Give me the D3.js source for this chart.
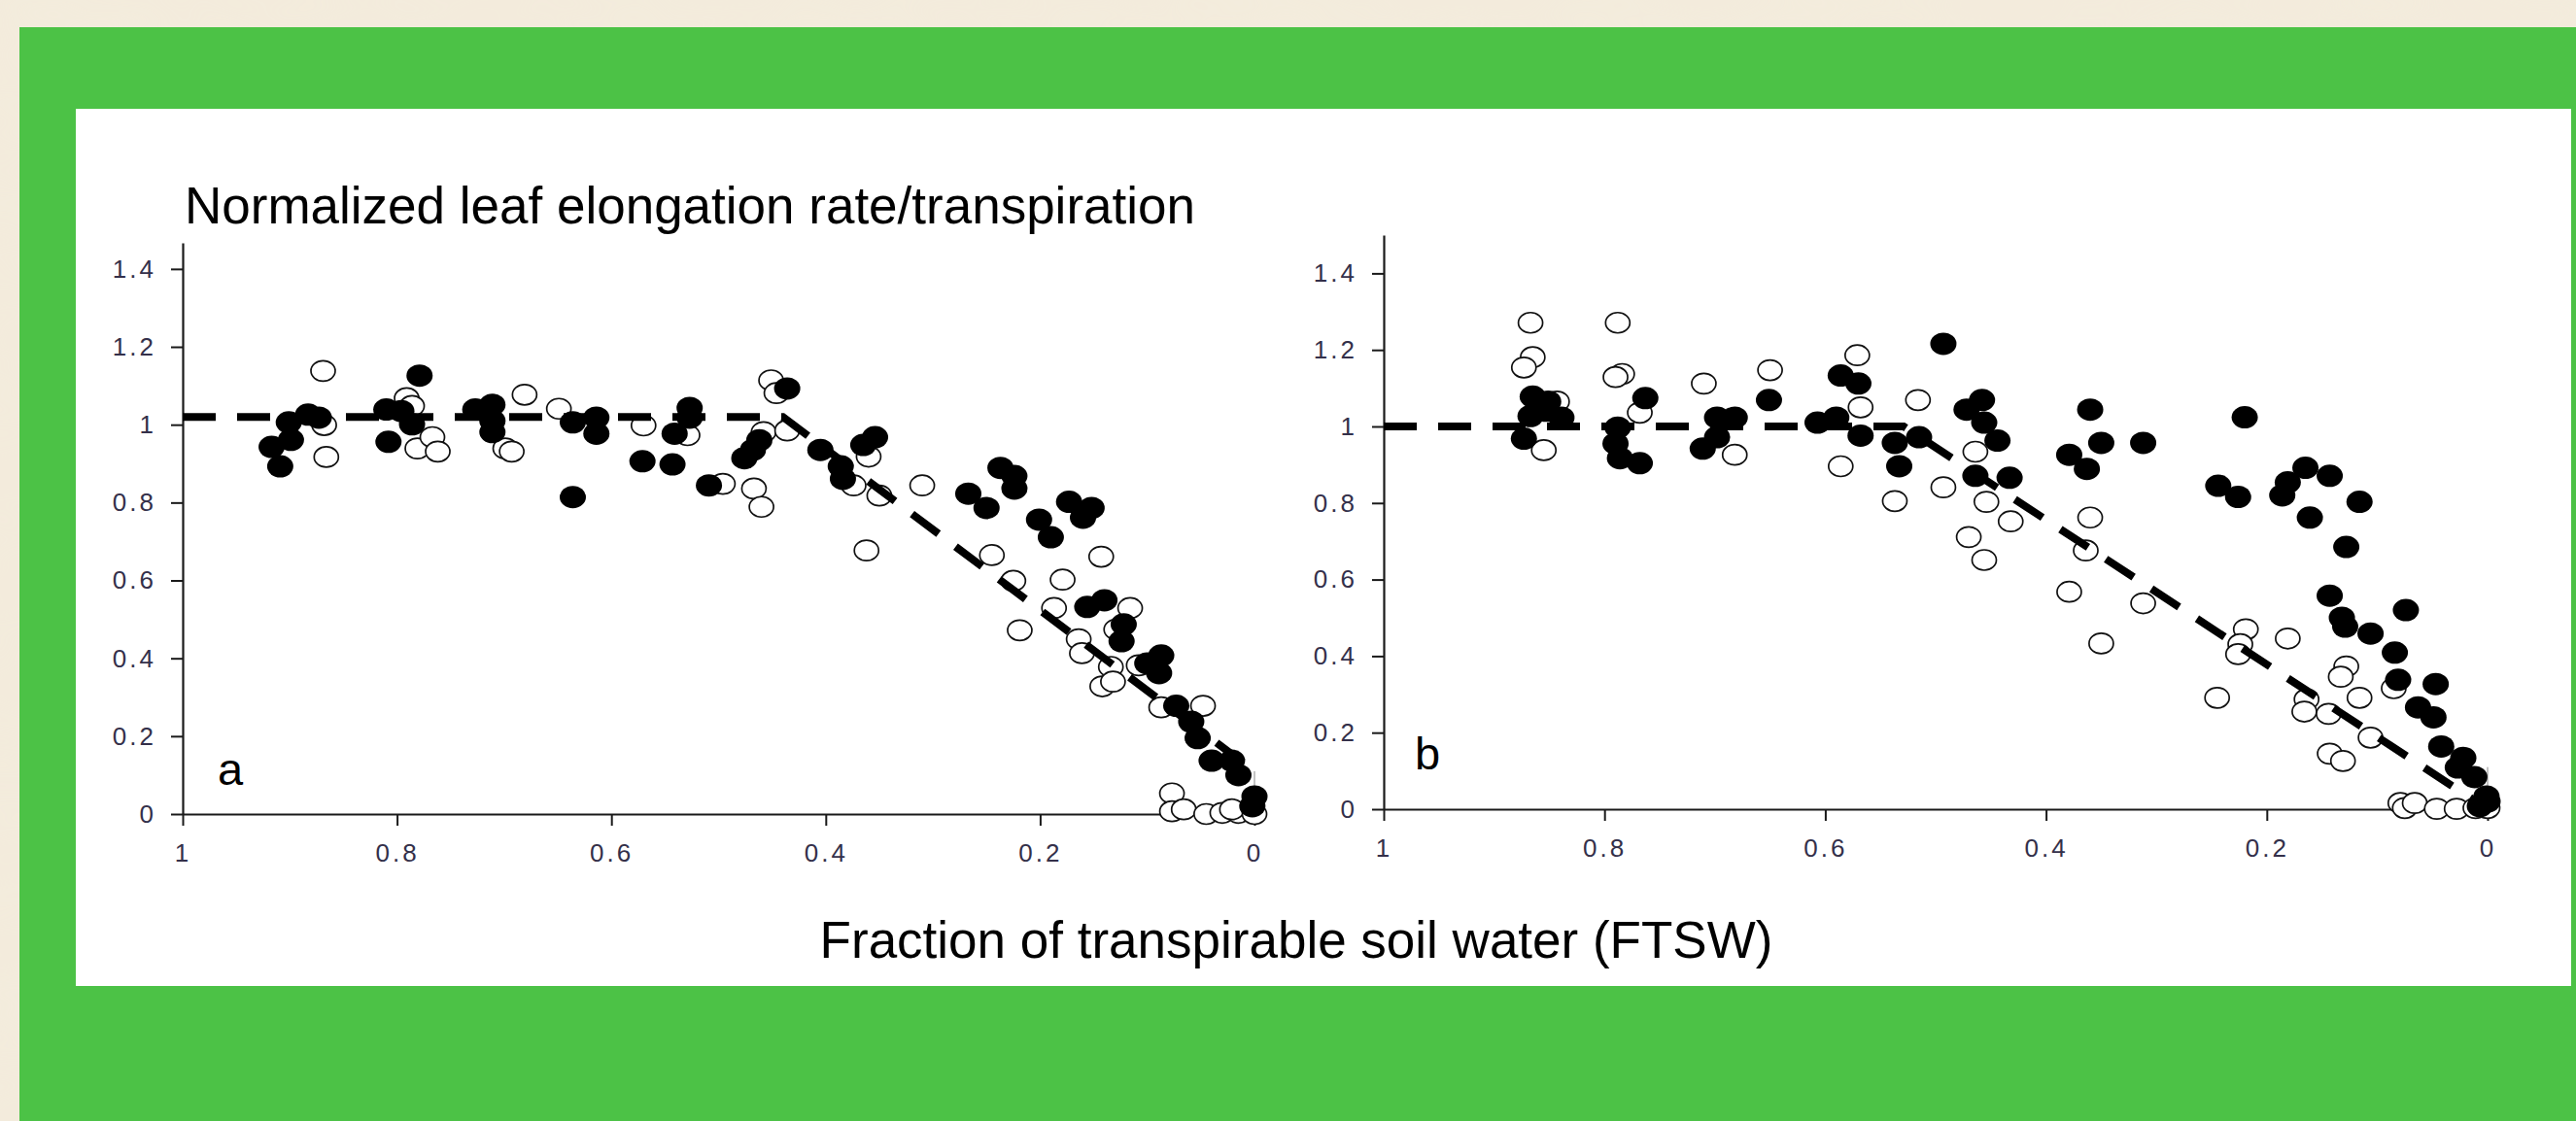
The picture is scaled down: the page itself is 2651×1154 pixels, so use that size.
<!DOCTYPE html>
<html>
<head>
<meta charset="utf-8">
<script src="https://cdnjs.cloudflare.com/ajax/libs/d3/7.8.5/d3.min.js"></script>
<style>
body { margin:0; padding:0; overflow:hidden; }
svg { display:block; }
</style>
</head>
<body>
<svg id="chart" width="2651" height="1154"></svg>
<script>
var xTicks = [1, 0.8, 0.6, 0.4, 0.2, 0];
var yTicks = [0, 0.2, 0.4, 0.6, 0.8, 1, 1.2, 1.4];

var titleText = "Normalized leaf elongation rate/transpiration";
var xTitleText = "Fraction of transpirable soil water (FTSW)";

// panel a : [FTSW, normalized rate]
var aFilled = [[0.917,0.943],[0.909,0.893],[0.899,0.961],[0.901,1.006],[0.883,1.026],[0.873,1.018],
	[0.810,1.039],[0.796,1.035],[0.786,1.001],[0.808,0.956],[0.779,1.126],
	[0.727,1.039],[0.711,1.051],[0.711,1.010],[0.711,0.981],
	[0.636,0.814],[0.636,1.006],[0.614,1.018],[0.614,0.977],
	[0.571,0.906],[0.543,0.898],[0.541,0.977],[0.527,1.043],[0.527,1.018],
	[0.509,0.844],[0.476,0.914],[0.468,0.935],[0.462,0.960],[0.436,1.093],[0.405,0.935],
	[0.386,0.893],[0.384,0.861],[0.365,0.948],[0.354,0.968],
	[0.237,0.889],[0.224,0.868],[0.224,0.836],[0.267,0.823],[0.250,0.786],
	[0.173,0.802],[0.152,0.786],[0.160,0.761],[0.201,0.756],[0.190,0.711],
	[0.156,0.532],[0.140,0.549],[0.122,0.487],[0.124,0.444],
	[0.087,0.407],[0.089,0.362],[0.100,0.387],[0.073,0.278],[0.059,0.237],[0.053,0.195],
	[0.040,0.137],[0.021,0.137],[0.015,0.100],[0.000,0.045],[0.002,0.020]];

var aHollow = [[0.869,1.138],[0.868,0.999],[0.866,0.917],[0.791,1.068],[0.786,1.048],[0.781,0.939],[0.767,0.968],[0.762,0.931],
	[0.699,0.939],[0.693,0.931],[0.681,1.077],[0.649,1.041],[0.570,0.998],[0.529,0.973],[0.496,0.848],[0.467,0.836],[0.460,0.789],
	[0.451,1.114],[0.446,1.081],[0.458,0.981],[0.436,0.985],
	[0.360,0.918],[0.374,0.844],[0.350,0.818],[0.310,0.844],[0.362,0.677],[0.245,0.665],[0.143,0.661],[0.179,0.602],
	[0.225,0.599],[0.187,0.529],[0.219,0.472],[0.116,0.529],[0.129,0.474],[0.164,0.449],[0.161,0.413],[0.134,0.378],
	[0.142,0.328],[0.132,0.340],[0.108,0.382],[0.087,0.274],[0.048,0.278],
	[0.077,0.053],[0.077,0.007],[0.066,0.012],[0.045,0.0],[0.030,0.003],[0.015,0.003],[0.021,0.012],[0.000,0.0]];

var aLine = [[1,1.02],[0.44,1.02],[0,0.11]];

// panel b
var bFilled = [[0.865,1.078],[0.851,1.065],[0.867,1.027],[0.853,1.041],[0.873,0.968],[0.839,1.023],
	[0.763,1.074],[0.788,0.997],[0.790,0.955],[0.786,0.917],[0.768,0.904],
	[0.711,0.942],[0.698,0.972],[0.698,1.023],[0.682,1.023],[0.651,1.069],
	[0.607,1.010],[0.590,1.023],[0.586,1.133],[0.570,1.112],[0.568,0.976],
	[0.537,0.957],[0.533,0.896],[0.515,0.972],[0.493,1.216],[0.472,1.044],[0.458,1.069],[0.456,1.010],[0.444,0.963],[0.464,0.871],[0.433,0.866],
	[0.360,1.044],[0.350,0.957],[0.312,0.957],[0.379,0.926],[0.363,0.889],
	[0.220,1.024],[0.244,0.845],[0.226,0.816],[0.165,0.892],[0.143,0.871],[0.181,0.854],[0.186,0.820],[0.116,0.803],[0.161,0.762],[0.128,0.685],
	[0.143,0.558],[0.074,0.520],[0.132,0.500],[0.129,0.477],[0.106,0.459],[0.084,0.409],[0.081,0.338],[0.047,0.327],[0.063,0.266],[0.049,0.240],
	[0.042,0.164],[0.022,0.134],[0.027,0.109],[0.012,0.084],[0.001,0.033],[0.007,0.008],[0.0,0.02]];

var bHollow = [[0.867,1.271],[0.865,1.181],[0.873,1.154],[0.843,1.065],[0.855,0.938],
	[0.788,1.271],[0.784,1.137],[0.790,1.129],[0.768,1.036],[0.710,1.112],[0.682,0.926],[0.650,1.147],
	[0.571,1.186],[0.568,1.050],[0.586,0.896],[0.516,1.069],[0.537,0.805],[0.493,0.841],[0.464,0.934],[0.470,0.711],[0.456,0.651],[0.454,0.803],
	[0.432,0.752],[0.360,0.762],[0.364,0.676],[0.379,0.568],[0.312,0.538],[0.350,0.433],
	[0.219,0.470],[0.224,0.431],[0.226,0.405],[0.181,0.446],[0.245,0.291],[0.128,0.373],[0.133,0.346],[0.116,0.291],[0.085,0.316],
	[0.164,0.287],[0.166,0.255],[0.144,0.249],[0.106,0.187],[0.143,0.145],[0.131,0.126],
	[0.079,0.016],[0.075,0.003],[0.066,0.016],[0.046,0.001],[0.028,0.001],[0.011,0.003],[0.0,0.003]];

var bLine = [[1,1],[0.529,1],[0,0]];

var svg = d3.select("#chart");
var font = "'Liberation Sans', Arial, sans-serif";

// backdrop: beige paper, green frame, white card
var defs = svg.append("defs");
var filt = defs.append("filter").attr("id","paper").attr("x",0).attr("y",0).attr("width","100%").attr("height","100%");
filt.append("feTurbulence").attr("type","fractalNoise").attr("baseFrequency","0.005 0.011").attr("numOctaves",3).attr("seed",4);
filt.append("feColorMatrix").attr("values","0 0 0 0 0.90  0 0 0 0 0.84  0 0 0 0 0.72  0 0 0 -1.6 1.2");
filt.append("feComposite").attr("in2","SourceGraphic").attr("operator","in");

svg.append("rect").attr("width",2651).attr("height",1154).style("fill","#f3ebdc");
svg.append("rect").attr("width",2651).attr("height",1154).style("fill","#f3ebdc").attr("filter","url(#paper)");
svg.append("rect").attr("x",20).attr("y",28).attr("width",2631).attr("height",1126).style("fill","#4cc246");
svg.append("rect").attr("x",78).attr("y",112).attr("width",2568).attr("height",903).style("fill","#ffffff");

function drawPanel(xs, ys, filled, hollow, fit, letter, lx, ly){
	var g = svg.append("g");

	var xAxis = d3.axisBottom(xs).tickValues(xTicks).tickSize(12).tickSizeOuter(0).tickPadding(19)
		.tickFormat(function(d){ return String(d); });
	var yAxis = d3.axisLeft(ys).tickValues(yTicks).tickSize(12).tickSizeOuter(0).tickPadding(18)
		.tickFormat(function(d){ return String(d); });

	var gx = g.append("g").attr("transform","translate(0,"+ys(0)+")").call(xAxis);
	var gy = g.append("g").attr("transform","translate("+xs(1)+",0)").call(yAxis);

	[gx, gy].forEach(function(a){
		a.selectAll("path.domain").style("stroke","#1a1a1a").style("stroke-width",2.2);
		a.selectAll(".tick line").style("stroke","#1a1a1a").style("stroke-width",2);
		a.selectAll(".tick text")
			.style("font-family",font)
			.style("font-size","26px")
			.style("letter-spacing","3px")
			.style("fill","#34304a");
	});
	gy.selectAll(".tick text").attr("dx","3px");

	// short right-hand stub at FTSW = 0
	g.append("line")
		.attr("x1",xs(0)).attr("x2",xs(0))
		.attr("y1",ys(0)).attr("y2",ys(0.11))
		.style("stroke","#888").style("stroke-width",1);

	g.selectAll("ellipse.hollow").data(hollow).enter().append("ellipse")
		.attr("class","hollow")
		.attr("cx",function(d){ return xs(d[0]); })
		.attr("cy",function(d){ return ys(d[1]); })
		.attr("rx",12.5).attr("ry",10.5)
		.style("fill","#ffffff")
		.style("stroke","#111")
		.style("stroke-width",1.7);

	g.selectAll("ellipse.filled").data(filled).enter().append("ellipse")
		.attr("class","filled")
		.attr("cx",function(d){ return xs(d[0]); })
		.attr("cy",function(d){ return ys(d[1]); })
		.attr("rx",13.5).attr("ry",11.5)
		.style("fill","#000");

	var line = d3.line().x(function(d){ return xs(d[0]); }).y(function(d){ return ys(d[1]); });
	g.append("path").datum(fit)
		.attr("d",line)
		.style("fill","none")
		.style("stroke","#000")
		.style("stroke-width",8)
		.style("stroke-dasharray","34,22");

	g.append("text").attr("x",lx).attr("y",ly)
		.text(letter)
		.style("font-family",font).style("font-size","47px").style("fill","#000");
}

var xa = d3.scaleLinear().domain([1,0]).range([188,1291]);
var ya = d3.scaleLinear().domain([0,1.467]).range([838,250]);
var xb = d3.scaleLinear().domain([1,0]).range([1424,2560]);
var yb = d3.scaleLinear().domain([0,1.5]).range([833,242]);

drawPanel(xa, ya, aFilled, aHollow, aLine, "a", 224, 808);
drawPanel(xb, yb, bFilled, bHollow, bLine, "b", 1456, 792);

svg.append("text").attr("x",190).attr("y",230)
	.text(titleText)
	.style("font-family",font).style("font-size","53px").style("fill","#000");

svg.append("text").attr("x",1334).attr("y",986)
	.attr("text-anchor","middle")
	.text(xTitleText)
	.style("font-family",font).style("font-size","53px").style("fill","#000");
</script>
</body>
</html>
